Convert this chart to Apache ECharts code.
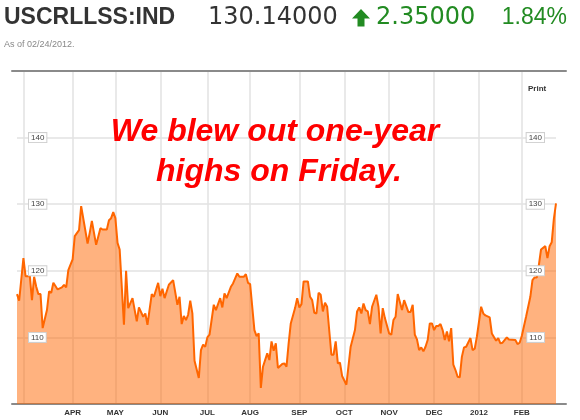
<!DOCTYPE html>
<html><head><meta charset="utf-8">
<script src="https://cdn.jsdelivr.net/npm/echarts@6/dist/echarts.min.js"></script>
<style>html,body{margin:0;padding:0;background:#fff}#c{width:580px;height:420px}</style>
</head><body><div id="c"></div>
<script>
// Trading calendar: 2011-02-24 .. 2012-02-24, weekdays minus market holidays
const firstDay = '2011-02-24', lastDay = '2012-02-24';
const holidays = ['2011-04-22','2011-05-30','2011-07-04','2011-09-05','2011-11-24','2011-12-26','2012-01-02','2012-01-16','2012-02-20'];
// readings: trading-day number (0 = 2011-02-24) and index level
const dayNo = [0,1,3,4,6,7,8,9,10,11,12,14,15,16,17,19,21,22,23,24,
26,27,29,30,33,34,35,37,39,40,42,43,44,45,
46,47,48,50,51,52,54,56,57,59,60,61,63,64,66,
67,68,69,71,73,75,76,77,78,79,80,81,82,83,85,86,87,88,
89,90,92,93,95,96,97,98,100,101,103,104,106,107,108,
109,111,112,113,114,115,117,118,119,120,121,122,124,125,126,127,128,130,131,
132,133,134,136,137,138,139,140,141,142,143,144,145,147,148,149,150,151,152,
154,156,158,159,160,161,162,163,164,165,166,167,168,169,170,171,172,
174,175,176,177,178,180,181,183,184,185,186,187,188,189,190,191,192,193,194,
195,196,197,198,199,200,201,202,203,204,205,206,207,208,209,210,212,213,214,215,
217,218,219,221,222,224,225,226,227,229,230,233,234,235,
236,238,240,241,242,243,244,245,247,248,249,250,251,252];
const values = [116.5,115.5,121.9,119.2,119.2,115.6,119.1,117.6,116.5,116.5,111.4,114.1,116.9,116.7,118.2,117.2,117.5,117.9,117.5,120.1,
121.7,125.2,126.1,129.7,124.1,125.7,127.5,123.9,126.4,126.2,126.2,127.6,127.9,128.8,
127.9,124.2,123.2,111.9,120.0,114.4,115.9,112.4,114.5,113.1,113.6,111.9,116.5,116.1,118.2,
116.2,117.3,115.9,117.9,118.6,114.9,116.1,112.0,113.2,112.6,113.4,115.5,113.6,106.5,103.9,108.1,108.9,108.6,
110.0,110.4,114.9,114.1,115.9,114.5,116.6,115.9,117.6,118.1,119.6,119.1,119.1,119.5,118.2,
118.0,111.1,110.2,110.6,102.4,105.6,107.6,106.6,109.4,108.0,109.1,105.4,106.0,106.1,105.6,109.1,112.1,114.4,115.9,
114.5,115.0,118.4,118.4,116.1,115.6,113.7,113.6,116.7,116.4,113.9,115.2,114.6,107.4,107.4,109.4,106.1,106.2,104.2,
102.9,108.6,111.1,113.9,114.5,113.6,115.1,114.1,113.9,112.0,114.6,115.5,116.4,114.6,110.6,114.4,112.9,
110.6,110.4,112.6,113.1,116.5,114.1,115.6,113.8,113.8,114.9,110.4,109.7,108.1,108.5,107.9,108.6,109.6,112.1,112.1,
111.1,111.7,111.7,112.0,111.1,109.6,110.9,109.4,111.4,105.9,105.1,104.1,104.0,107.1,108.5,108.6,109.9,108.1,108.3,110.1,
114.6,113.6,113.3,113.0,110.6,109.5,109.9,109.1,109.2,110.0,109.7,109.6,109.0,109.2,
110.2,113.1,116.1,118.6,119.0,119.0,120.9,123.2,123.7,121.9,123.7,124.3,127.79,130.14];
const monthNames = ['JAN','FEB','MAR','APR','MAY','JUN','JUL','AUG','SEP','OCT','NOV','DEC'];
const yMin = 100, yMax = 150, yStep = 10;
const yLabelValues = [110, 120, 130, 140];
const ticker = 'USCRLLSS:IND', lastPrice = '130.14000', change = '2.35000', changePct = '1.84%';
const asOf = 'As of 02/24/2012.';
const note1 = 'We blew out one-year', note2 = 'highs on Friday.';

// build the category list of trading dates
const pad = n => (n < 10 ? '0' : '') + n;
const tradingDates = [];
for (let t = new Date(firstDay + 'T12:00:00'); t <= new Date(lastDay + 'T12:00:00'); t.setDate(t.getDate() + 1)) {
  const s = t.getFullYear() + '-' + pad(t.getMonth() + 1) + '-' + pad(t.getDate());
  const wd = t.getDay();
  if (wd !== 0 && wd !== 6 && holidays.indexOf(s) < 0) tradingDates.push(s);
}
const isMonthStart = (i) => i > 0 && tradingDates[i].slice(5, 7) !== tradingDates[i - 1].slice(5, 7);

const FONT = '"Liberation Sans", Arial, Helvetica, sans-serif';
const chart = echarts.init(document.getElementById('c'), null, {renderer: 'canvas'});
const green = '#228b22';
const gridColor = '#e2e2e2';
const labelAxis = (pos, margin) => ({
  type: 'value', gridIndex: 0, position: pos, min: yMin, max: yMax, interval: yStep, z: 5,
  axisLine: {show: false}, axisTick: {show: false}, splitLine: {show: false},
  axisLabel: {
    inside: true, margin: margin, fontSize: 8, color: '#444', fontFamily: FONT,
    backgroundColor: '#fff', borderColor: '#cfcfcf', borderWidth: 1, padding: [1, 2, 0, 2],
    customValues: yLabelValues
  }
});
chart.setOption({
  animation: false,
  backgroundColor: '#fff',
  grid: [
    {left: 17, right: 24, top: 71, bottom: 16},
    {left: 12, right: 14, top: 71, bottom: 16}
  ],
  xAxis: [{
    type: 'category', gridIndex: 0, data: tradingDates, boundaryGap: false,
    axisLine: {show: false}, axisTick: {show: false},
    splitLine: {show: true, interval: (i) => isMonthStart(i), lineStyle: {color: gridColor, width: 1.5}},
    axisLabel: {
      interval: (i) => isMonthStart(i), color: '#333', fontWeight: 'bold', fontSize: 8, fontFamily: FONT, margin: 5,
      formatter: function (v) {
        const m = +v.slice(5, 7) - 1;
        if (m === 2) return '';
        if (m === 0) return v.slice(0, 4);
        return monthNames[m];
      }
    }
  }, {
    type: 'value', gridIndex: 1, position: 'bottom', min: 0, max: 1,
    axisLine: {show: true, lineStyle: {color: '#8a8a8a', width: 2}},
    axisTick: {show: false}, axisLabel: {show: false}, splitLine: {show: false}
  }, {
    type: 'value', gridIndex: 1, position: 'top', min: 0, max: 1,
    axisLine: {show: true, lineStyle: {color: '#8a8a8a', width: 2}},
    axisTick: {show: false}, axisLabel: {show: false}, splitLine: {show: false}
  }],
  yAxis: [{
    type: 'value', gridIndex: 0, min: yMin, max: yMax, interval: yStep,
    axisLine: {show: false}, axisTick: {show: false}, axisLabel: {show: false},
    splitLine: {show: true, lineStyle: {color: gridColor, width: 1.5}}
  },
  labelAxis('left', 12),
  labelAxis('right', 12),
  {
    type: 'value', gridIndex: 1, min: 0, max: 1, show: false
  }],
  series: [{
    type: 'line', xAxisIndex: 0, yAxisIndex: 0,
    data: dayNo.map((d, i) => [d, values[i]]),
    showSymbol: false, symbol: 'none', smooth: false,
    lineStyle: {color: '#ff6600', width: 2},
    areaStyle: {color: '#ff6600', opacity: 0.5, origin: 'start'},
    z: 2
  }],
  graphic: [
    {type: 'text', x: 4, y: 17.5, style: {text: ticker, font: 'bold 23px ' + FONT, fill: '#333', textVerticalAlign: 'middle'}},
    {type: 'text', x: 208, y: 17.5, style: {text: lastPrice, font: '24px "DejaVu Sans", sans-serif', fill: '#333', textVerticalAlign: 'middle'}},
    {type: 'polygon', shape: {points: [[352, 18.5], [361, 9], [370, 18.5], [364.5, 18.5], [364.5, 26.5], [357.5, 26.5], [357.5, 18.5]]}, style: {fill: green}},
    {type: 'text', x: 376, y: 17.5, style: {text: change, font: '24px "DejaVu Sans", sans-serif', fill: green, textVerticalAlign: 'middle'}},
    {type: 'text', x: 567, y: 17.5, style: {text: changePct, font: '23px ' + FONT, fill: green, textAlign: 'right', textVerticalAlign: 'middle'}},
    {type: 'text', x: 4, y: 45, style: {text: asOf, font: '9px ' + FONT, fill: '#888', textVerticalAlign: 'middle'}},
    {type: 'text', x: 528, y: 89, style: {text: 'Print', font: 'bold 8px ' + FONT, fill: '#333', textVerticalAlign: 'middle'}},
    {type: 'text', x: 275, y: 132, z: 10, style: {text: note1, font: 'italic bold 32px ' + FONT, fill: '#ff0000', textAlign: 'center', textVerticalAlign: 'middle'}},
    {type: 'text', x: 279, y: 172, z: 10, style: {text: note2, font: 'italic bold 32px ' + FONT, fill: '#ff0000', textAlign: 'center', textVerticalAlign: 'middle'}}
  ]
});
</script></body></html>
